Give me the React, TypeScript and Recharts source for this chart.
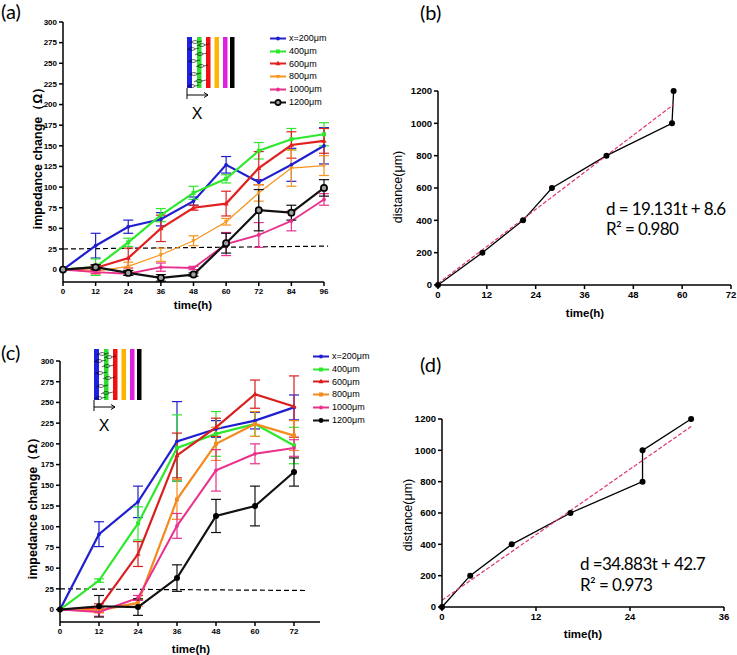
import React from "react";
import { LineChart, Line, XAxis, YAxis, ErrorBar, ReferenceLine, Legend, Label } from "recharts";

// ---- (a) impedance change, 0-96 h ----
const timeA = [0, 12, 24, 36, 48, 60, 72, 84, 96];
const a200 = [0, 29, 52, 61, 83, 127, 106, 127, 150];
const a200Err = [0, 15, 8, 8, 5, 10, 3, 20, 22];
const a400 = [0, 3, 33, 66, 93, 110, 144, 158, 164];
const a400Err = [0, 10, 5, 8, 8, 5, 10, 13, 14];
const a600 = [0, 2, 14, 50, 75, 80, 123, 151, 156];
const a600Err = [0, 3, 12, 16, 3, 15, 20, 16, 15];
const a800 = [0, -2, 4, 18, 35, 58, 93, 123, 126];
const a800Err = [0, 3, 5, 8, 6, 4, 10, 22, 12];
const a1000 = [0, -3, -5, 3, 2, 31, 42, 59, 85];
const a1000Err = [0, 2, 2, 5, 2, 14, 15, 12, 7];
const a1200 = [0, 3, -4, -10, -6, 32, 72, 69, 99];
const a1200Err = [0, 3, 3, 4, 2, 12, 25, 9, 10];
const dashAt = [0, 97.5];
const dashAv = [25, 28.5];

// ---- (c) impedance change, 0-72 h ----
const timeC = [0, 12, 24, 36, 48, 60, 72];
const c200 = [0, 91, 130, 203, 218, 228, 244];
const c200Err = [0, 15, 19, 48, 10, 10, 15];
const c400 = [0, 35, 104, 195, 212, 224, 198];
const c400Err = [0, 2, 20, 40, 27, 15, 22];
const c600 = [0, 2, 67, 186, 220, 260, 245];
const c600Err = [0, 5, 15, 27, 11, 17, 37];
const c800 = [0, -1, 8, 133, 200, 224, 210];
const c800Err = [0, 3, 4, 24, 20, 15, 18];
const c1000 = [0, -3, 14, 101, 168, 188, 195];
const c1000Err = [0, 5, 3, 15, 25, 12, 10];
const c1200 = [0, 4, 3, 38, 113, 125, 166];
const c1200Err = [0, 13, 10, 16, 20, 24, 17];
const dashCt = [0, 76];
const dashCv = [25, 23];

// ---- (b) / (d) distance vs time ----
const bTime = [0, 10.9, 20.9, 28.0, 41.4, 57.5, 57.9];
const bDist = [0, 200, 400, 600, 800, 1000, 1200];
const bFitT = [0, 57.9];
const bFitD = [8.6, 1116];
const dTime = [0, 3.6, 8.9, 16.4, 25.6, 25.6, 31.8];
const dDist = [0, 200, 400, 600, 800, 1000, 1200];
const dFitT = [0, 31.8];
const dFitD = [42.7, 1152];

const impTicks = [0, 25, 50, 75, 100, 125, 150, 175, 200, 225, 250, 275, 300];
const ticksA = [0, 12, 24, 36, 48, 60, 72, 84, 96];
const ticksC = [0, 12, 24, 36, 48, 60, 72];
const ticksB = [0, 12, 24, 36, 48, 60, 72];
const ticksD = [0, 12, 24, 36];
const distTicks = [0, 200, 400, 600, 800, 1000, 1200];
const names = ["x=200μm", "400μm", "600μm", "800μm", "1000μm", "1200μm"];
const keys = ["s200", "s400", "s600", "s800", "s1000", "s1200"];

const ARIAL = "'Liberation Sans', Arial, sans-serif";
const LATO = "Lato, 'Open Sans', sans-serif";

const styleA = [
  { color: "#1f1fcf", shape: "dot", w: 2.2 },
  { color: "#2ee82e", shape: "square", w: 2.2 },
  { color: "#e32020", shape: "tri", w: 2.2 },
  { color: "#f7941d", shape: "triDown", w: 1.3 },
  { color: "#e8308c", shape: "dot", w: 1.8 },
  { color: "#111111", shape: "ring", w: 2.2 },
];
const styleC = [
  { color: "#1f1fcf", shape: "dot", w: 2.2 },
  { color: "#2ee82e", shape: "square", w: 2.2 },
  { color: "#d91e1e", shape: "tri", w: 2.2 },
  { color: "#f58a1f", shape: "square", w: 2.2 },
  { color: "#e8308c", shape: "dot", w: 2 },
  { color: "#111111", shape: "disc", w: 2.2 },
];

const buildRows = (time: number[], vals: number[][], errs: number[][]) =>
  time.map((t, i) => {
    const row: any = { t };
    keys.forEach((k, j) => {
      row[k] = vals[j][i];
      row[k + "e"] = errs[j][i];
    });
    return row;
  });

const rowsA = buildRows(timeA, [a200, a400, a600, a800, a1000, a1200], [a200Err, a400Err, a600Err, a800Err, a1000Err, a1200Err]);
const rowsC = buildRows(timeC, [c200, c400, c600, c800, c1000, c1200], [c200Err, c400Err, c600Err, c800Err, c1000Err, c1200Err]);
const rowsB = bTime.map((t, i) => ({ t, d: bDist[i] }));
const rowsD = dTime.map((t, i) => ({ t, d: dDist[i] }));

function Marker({ cx, cy, shape, color, small }: any) {
  if (cx == null || cy == null) return null;
  switch (shape) {
    case "square":
      return <rect x={cx - 2} y={cy - 2} width={4} height={4} fill={color} />;
    case "tri":
      return <path d={`M${cx},${cy - 2.8}L${cx + 2.6},${cy + 1.8}L${cx - 2.6},${cy + 1.8}Z`} fill={color} />;
    case "triDown":
      return <path d={`M${cx},${cy + 2.4}L${cx + 2.2},${cy - 1.6}L${cx - 2.2},${cy - 1.6}Z`} fill={color} />;
    case "ring":
      return <circle cx={cx} cy={cy} r={small ? 2.6 : 3.1} fill="#a0a0a0" stroke="#000" strokeWidth={1.7} />;
    case "disc":
      return <circle cx={cx} cy={cy} r={small ? 2.4 : 3} fill="#000" />;
    default:
      return <circle cx={cx} cy={cy} r={1.9} fill={color} />;
  }
}

const axisLine = { stroke: "#000", strokeWidth: 1.5 };
const tickFont = (size: number) => ({ fontFamily: ARIAL, fontSize: size, fontWeight: 700, fill: "#000" });

const yTitle = (text: string, x: number, y: number, size: number, weight: number) => (
  <Label
    content={() => (
      <text
        x={x}
        y={y}
        transform={`rotate(-90 ${x} ${y})`}
        textAnchor="middle"
        dominantBaseline="central"
        style={{ fontFamily: ARIAL, fontSize: size, fontWeight: weight, fill: "#000" }}
      >
        {text}
      </text>
    )}
  />
);

const xTitle = (text: string, x: number, y: number, size: number) => (
  <Label
    content={() => (
      <text x={x} y={y} textAnchor="middle" style={{ fontFamily: ARIAL, fontSize: size, fontWeight: 700, fill: "#000" }}>
        {text}
      </text>
    )}
  />
);

function LegendBox({ styles }: any) {
  return (
    <div style={{ fontFamily: ARIAL, fontSize: 9, color: "#000", lineHeight: "12.8px" }}>
      {styles.map((s: any, i: number) => (
        <div key={keys[i]} style={{ display: "flex", alignItems: "center", height: 12.8, whiteSpace: "nowrap" }}>
          <svg width={16} height={9} style={{ display: "block" }}>
            <line x1={0} x2={16} y1={4.5} y2={4.5} stroke={s.color} strokeWidth={2} />
            <Marker cx={8} cy={4.5} shape={s.shape} color={s.color} small />
          </svg>
          <span style={{ marginLeft: 3 }}>{names[i]}</span>
        </div>
      ))}
    </div>
  );
}

// electrode strips with cells and the X arrow
function Inset({ left, top }: { left: number; top: number }) {
  const bars = [
    { x: 0, w: 5, c: "#2020e0" },
    { x: 10, w: 4.5, c: "#30e030" },
    { x: 19, w: 4.5, c: "#f01010" },
    { x: 27.5, w: 4.5, c: "#ffb400" },
    { x: 36, w: 4.5, c: "#e020e0" },
    { x: 43, w: 4.5, c: "#000" },
  ];
  const cells = [
    [8, 5], [15, 8], [5, 12], [13, 17], [6, 24], [14, 29], [7, 37], [12, 44], [5, 49],
  ];
  return (
    <svg width={60} height={90} style={{ position: "absolute", left, top, overflow: "visible" }}>
      {bars.map((b) => (
        <rect key={b.x} x={b.x} y={0} width={b.w} height={51} fill={b.c} />
      ))}
      {cells.map(([cx, cy], i) => (
        <g key={i} stroke="#000" strokeWidth={0.6} fill="none">
          <ellipse cx={cx} cy={cy} rx={3} ry={1.4} />
          <line x1={cx + 3} y1={cy} x2={cx + 7} y2={cy - 1} />
          <line x1={cx - 3} y1={cy} x2={cx - 5} y2={cy + 0.8} />
        </g>
      ))}
      <line x1={0} y1={51} x2={0} y2={62} stroke="#000" strokeWidth={1} />
      <line x1={0} y1={58} x2={21} y2={58} stroke="#000" strokeWidth={1} />
      <path d="M17,55.5 L21,58 L17,60.5" stroke="#000" strokeWidth={1} fill="none" />
      <text x={10} y={82} textAnchor="middle" style={{ fontFamily: ARIAL, fontSize: 16, fill: "#000" }}>
        X
      </text>
    </svg>
  );
}

function ImpedancePanel({ rows, styles, width, height, margin, xDomain, xTicks, dashT, dashV, yT, xT, legendPos }: any) {
  return (
    <LineChart width={width} height={height} data={rows} margin={margin}>
      <XAxis
        type="number"
        dataKey="t"
        domain={xDomain}
        ticks={xTicks}
        interval={0}
        tick={tickFont(8)}
        tickSize={4}
        tickMargin={2}
        axisLine={axisLine}
        tickLine={axisLine}
        height={30}
        label={xTitle("time(h)", xT[0], xT[1], 11.5)}
      />
      <YAxis
        type="number"
        domain={[-15, 300]}
        ticks={impTicks}
        interval={0}
        tick={tickFont(8)}
        tickSize={4}
        tickMargin={2}
        axisLine={axisLine}
        tickLine={axisLine}
        width={40}
        label={yTitle("impedance change（Ω）", yT[0], yT[1], 12.5, 700)}
      />
      <ReferenceLine
        segment={[
          { x: dashT[0], y: dashV[0] },
          { x: dashT[1], y: dashV[1] },
        ]}
        stroke="#000"
        strokeWidth={1.2}
        strokeDasharray="5 3"
        ifOverflow="visible"
      />
      {keys.map((k, i) => (
        <Line
          key={k}
          dataKey={k}
          name={names[i]}
          type="linear"
          stroke={styles[i].color}
          strokeWidth={styles[i].w}
          isAnimationActive={false}
          dot={(p: any) => <Marker key={p.index} cx={p.cx} cy={p.cy} shape={styles[i].shape} color={styles[i].color} />}
          activeDot={false}
        >
          <ErrorBar dataKey={k + "e"} width={5} stroke={styles[i].color} strokeWidth={1.2} direction="y" isAnimationActive={false} />
        </Line>
      ))}
      <Legend
        layout="horizontal"
        verticalAlign="middle"
        align="center"
        wrapperStyle={{ left: legendPos[0], top: legendPos[1], width: "auto", height: "auto" }}
        content={() => <LegendBox styles={styles} />}
      />
    </LineChart>
  );
}

function DistancePanel({ rows, width, height, margin, xDomain, xTicks, fitT, fitD, yT, xT }: any) {
  return (
    <LineChart width={width} height={height} data={rows} margin={margin}>
      <XAxis
        type="number"
        dataKey="t"
        domain={xDomain}
        ticks={xTicks}
        interval={0}
        tick={tickFont(9.5)}
        tickSize={4}
        tickMargin={2}
        axisLine={axisLine}
        tickLine={axisLine}
        height={30}
        label={xTitle("time(h)", xT[0], xT[1], 11.5)}
      />
      <YAxis
        type="number"
        domain={[0, 1200]}
        ticks={distTicks}
        interval={0}
        tick={tickFont(9.5)}
        tickSize={4}
        tickMargin={2}
        axisLine={axisLine}
        tickLine={axisLine}
        width={40}
        label={yTitle("distance(μm)", yT[0], yT[1], 12.5, 400)}
      />
      <Line
        dataKey="d"
        type="linear"
        stroke="#000"
        strokeWidth={1.3}
        isAnimationActive={false}
        dot={(p: any) => <Marker key={p.index} cx={p.cx} cy={p.cy} shape="disc" color="#000" />}
        activeDot={false}
      />
      <ReferenceLine
        segment={[
          { x: fitT[0], y: fitD[0] },
          { x: fitT[1], y: fitD[1] },
        ]}
        stroke="#e0307a"
        strokeWidth={1.2}
        strokeDasharray="4 2"
        ifOverflow="visible"
      />
    </LineChart>
  );
}

const tag = (text: string, left: number, top: number) => (
  <div style={{ position: "absolute", left, top, fontFamily: LATO, fontSize: 20, lineHeight: "22px", color: "#000" }}>{text}</div>
);

const equation = (l1: string, l2: string, left: number, top: number, lh: number) => (
  <div
    style={{
      position: "absolute",
      left,
      top,
      fontFamily: LATO,
      fontSize: 17,
      letterSpacing: -0.6,
      lineHeight: `${lh}px`,
      color: "#000",
      whiteSpace: "nowrap",
    }}
  >
    <div>{l1}</div>
    <div>{l2}</div>
  </div>
);

export default function App() {
  return (
    <div style={{ position: "absolute", left: 0, top: 0, width: 737, height: 655, background: "#fff", overflow: "hidden" }}>
      <div style={{ position: "absolute", left: 0, top: 0, width: 370, height: 320 }}>
        <ImpedancePanel
          rows={rowsA}
          styles={styleA}
          width={370}
          height={320}
          margin={{ top: 22, right: 46, left: 23, bottom: 8 }}
          xDomain={[0, 96]}
          xTicks={ticksA}
          dashT={dashAt}
          dashV={dashAv}
          yT={[38, 155]}
          xT={[193, 309]}
          legendPos={[270, 32]}
        />
        <Inset left={187} top={37} />
      </div>
      <div style={{ position: "absolute", left: 0, top: 330, width: 370, height: 325 }}>
        <ImpedancePanel
          rows={rowsC}
          styles={styleC}
          width={370}
          height={325}
          margin={{ top: 31, right: 50, left: 20, bottom: 3 }}
          xDomain={[0, 80]}
          xTicks={ticksC}
          dashT={dashCt}
          dashV={dashCv}
          yT={[33, 175]}
          xT={[191, 323]}
          legendPos={[313, 20]}
        />
        <Inset left={94} top={19} />
      </div>
      <div style={{ position: "absolute", left: 380, top: 0, width: 357, height: 320 }}>
        <DistancePanel
          rows={rowsB}
          width={357}
          height={320}
          margin={{ top: 91, right: 6, left: 18, bottom: 5 }}
          xDomain={[0, 72]}
          xTicks={ticksB}
          fitT={bFitT}
          fitD={bFitD}
          yT={[18, 187]}
          xT={[205, 317]}
        />
      </div>
      <div style={{ position: "absolute", left: 380, top: 330, width: 357, height: 325 }}>
        <DistancePanel
          rows={rowsD}
          width={357}
          height={325}
          margin={{ top: 89, right: 13, left: 22, bottom: 18 }}
          xDomain={[0, 36]}
          xTicks={ticksD}
          fitT={dFitT}
          fitD={dFitD}
          yT={[28, 185]}
          xT={[203, 308]}
        />
      </div>
      {tag("(a)", 1, 0)}
      {tag("(b)", 420, 1)}
      {tag("(c)", 1, 341)}
      {tag("(d)", 420, 353)}
      {equation("d = 19.131t + 8.6", "R² = 0.980", 606, 199, 20)}
      {equation("d =34.883t + 42.7", "R² = 0.973", 580, 553, 21)}
    </div>
  );
}
